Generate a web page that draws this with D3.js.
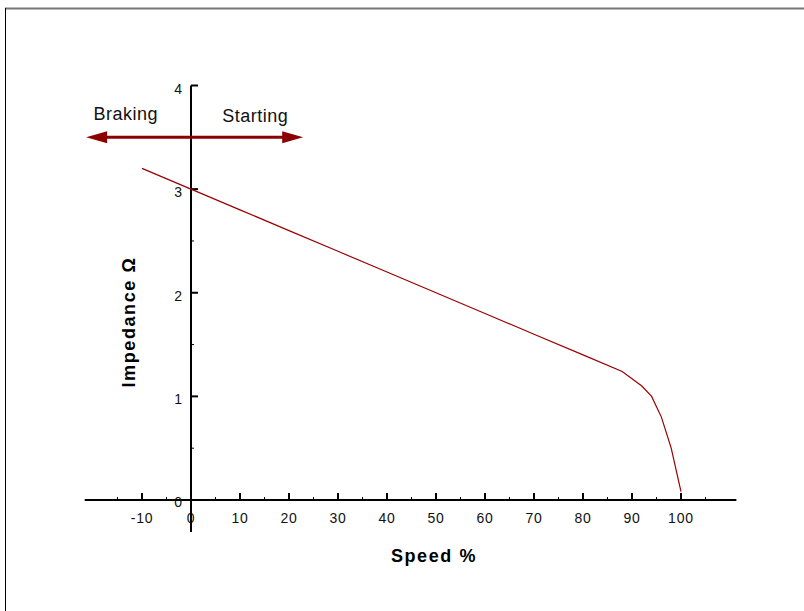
<!DOCTYPE html>
<html><head><meta charset="utf-8">
<script src="https://cdn.jsdelivr.net/npm/d3@7"></script>
<style>body{margin:0;background:#fff}svg{display:block}text{font-family:"Liberation Sans",Arial,sans-serif}</style>
</head><body>
<svg id="c" width="804" height="611"></svg>
<script>
const speed = [-10, 0, 10, 20, 30, 40, 50, 60, 70, 80, 88, 92, 94, 96, 98, 100];
const impedance = [3.2, 3.0, 2.8, 2.6, 2.4, 2.2, 2.0, 1.8, 1.6, 1.4, 1.24, 1.1, 1.0, 0.8, 0.5, 0.08];
const xTicks = [-10, 0, 10, 20, 30, 40, 50, 60, 70, 80, 90, 100];
const xMinor = [-15, -5, 5, 15, 25, 35, 45, 55, 65, 75, 85, 95, 105];
const yTicks = [0, 1, 2, 3, 4];
const yMinor = [0.5, 1.5, 2.5, 3.5];
const arrowSpan = [-21.4, 22.9];
const arrowY = 3.5;
const zoneLabels = [{text: "Braking", x: -13.3}, {text: "Starting", x: 13.1}];
const xTitle = "Speed %";
const yTitle = "Impedance Ω";

const svg = d3.select("#c");
const x = d3.scaleLinear().domain([0, 100]).range([191, 681]);
const y = d3.scaleLinear().domain([0, 4]).range([500, 85.5]);
const red = "#8b0000";

// frame
svg.append("line").attr("x1", 5).attr("x2", 804).attr("y1", 8.5).attr("y2", 8.5).attr("stroke", "#777").attr("stroke-width", 2);
svg.append("line").attr("x1", 5.5).attr("x2", 5.5).attr("y1", 8).attr("y2", 611).attr("stroke", "#000").attr("stroke-width", 1);

// x axis
const gx = svg.append("g");
gx.append("line").attr("x1", x(-21.7)).attr("x2", x(111.3)).attr("y1", y(0)).attr("y2", y(0)).attr("stroke", "#000").attr("stroke-width", 2);
gx.selectAll("line.mj").data(xTicks).join("line").attr("class", "mj")
  .attr("x1", d => x(d)).attr("x2", d => x(d)).attr("y1", y(0)).attr("y2", y(0) - 7)
  .attr("stroke", "#000").attr("stroke-width", 2);
gx.selectAll("line.mn").data(xMinor).join("line").attr("class", "mn")
  .attr("x1", d => x(d)).attr("x2", d => x(d)).attr("y1", y(0)).attr("y2", y(0) - 3)
  .attr("stroke", "#000").attr("stroke-width", 1);
gx.selectAll("text").data(xTicks).join("text")
  .attr("x", d => x(d)).attr("y", y(0) + 23).attr("text-anchor", "middle")
  .attr("font-size", 14).attr("letter-spacing", 0.8).attr("fill", "#111").text(d => d);

// y axis
const gy = svg.append("g");
gy.append("line").attr("x1", x(0)).attr("x2", x(0)).attr("y1", y(4)).attr("y2", y(-0.31)).attr("stroke", "#000").attr("stroke-width", 2);
gy.selectAll("line.mj").data(yTicks).join("line").attr("class", "mj")
  .attr("x1", x(0)).attr("x2", x(0) + 7).attr("y1", d => y(d)).attr("y2", d => y(d))
  .attr("stroke", "#000").attr("stroke-width", 2);
gy.selectAll("line.mn").data(yMinor).join("line").attr("class", "mn")
  .attr("x1", x(0)).attr("x2", x(0) + 3).attr("y1", d => y(d)).attr("y2", d => y(d))
  .attr("stroke", "#000").attr("stroke-width", 1);
gy.selectAll("text").data(yTicks).join("text")
  .attr("x", x(0) - 9).attr("y", d => y(d) + (d === 0 ? 7 : 8)).attr("text-anchor", "end")
  .attr("font-size", 14).attr("fill", "#111").text(d => d);

// curve
svg.append("path").datum(speed.map((s, i) => [s, impedance[i]]))
  .attr("d", d3.line().x(d => x(d[0])).y(d => y(d[1])))
  .attr("fill", "none").attr("stroke", "#990000").attr("stroke-width", 1.2);

// arrow
const ay = y(arrowY);
const ax0 = x(arrowSpan[0]), ax1 = x(arrowSpan[1]);
svg.append("line").attr("x1", ax0 + 15).attr("x2", ax1 - 15).attr("y1", ay).attr("y2", ay).attr("stroke", red).attr("stroke-width", 3);
svg.append("path").attr("d", `M${ax0},${ay} L${ax0 + 21},${ay - 6} L${ax0 + 21},${ay + 6} Z`).attr("fill", red);
svg.append("path").attr("d", `M${ax1},${ay} L${ax1 - 21},${ay - 6} L${ax1 - 21},${ay + 6} Z`).attr("fill", red);
svg.selectAll(".zl").data(zoneLabels).join("text").attr("class", "zl")
  .attr("x", d => x(d.x)).attr("y", (d, i) => i === 0 ? 120 : 122).attr("text-anchor", "middle")
  .attr("font-size", 18).attr("letter-spacing", 0.5).attr("fill", "#111").text(d => d.text);

// titles
svg.append("text").attr("x", 434).attr("y", 562).attr("text-anchor", "middle")
  .attr("font-size", 18).attr("letter-spacing", 1.6).attr("font-weight", "bold").attr("fill", "#000").text(xTitle);
svg.append("text").attr("transform", "translate(135,322) rotate(-90)").attr("text-anchor", "middle")
  .attr("font-size", 18).attr("letter-spacing", 1.6).attr("font-weight", "bold").attr("fill", "#000").text(yTitle);
</script>
</body></html>
